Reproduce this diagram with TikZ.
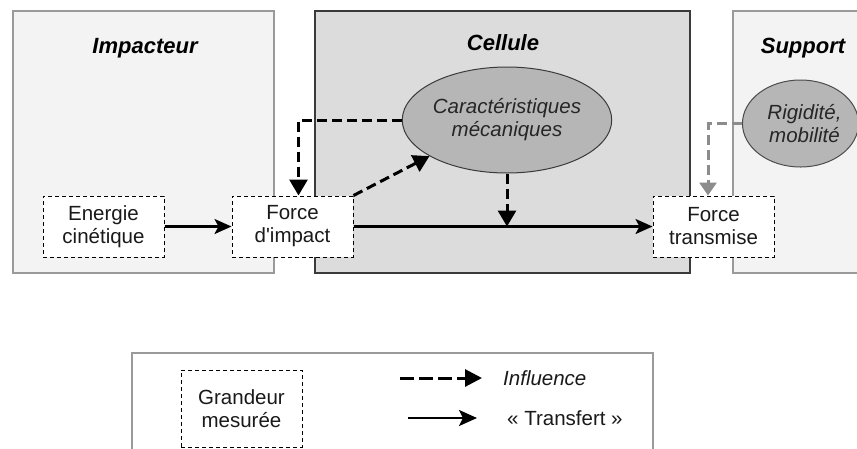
\documentclass[tikz,border=0pt]{standalone}
\usepackage{fontspec}
\setmainfont{Liberation Sans}
\usetikzlibrary{shapes.geometric,arrows.meta}
\definecolor{lightbg}{HTML}{F2F3F2}
\definecolor{cellbg}{HTML}{DCDCDC}
\definecolor{ellfill}{HTML}{B6B6B6}
\definecolor{zoneline}{HTML}{9A9A9A}
\definecolor{cellline}{HTML}{3A3A3A}
\definecolor{grayarrow}{HTML}{8C8C8C}
\definecolor{txt}{HTML}{1A1A1A}
\begin{document}
\begin{tikzpicture}[x=1pt,y=-1pt,
  lightzone/.style={fill=lightbg,draw=zoneline,line width=1.2pt},
  cellzone/.style={fill=cellbg,draw=cellline,line width=1.3pt},
  zonetitle/.style={font=\fontsize{22}{26}\selectfont\bfseries\itshape,anchor=base,inner sep=0pt},
  qty/.style={draw=black,fill=white,dash pattern=on 4pt off 3pt,line width=1pt,
    minimum width=121pt,minimum height=61pt,inner sep=0pt,align=center,text=txt,
    font=\fontsize{20.5}{23}\selectfont},
  charac/.style={ellipse,draw=cellline,fill=ellfill,line width=1pt,inner sep=0pt,
    align=center,font=\fontsize{20.5}{23}\selectfont\itshape,text=black!85},
  influence/.style={line width=3pt,dash pattern=on 10pt off 5pt,
    -{Triangle[length=16pt,width=18pt]}},
  transfer/.style={line width=2.3pt,-{Stealth[length=17pt,width=15pt,inset=4pt]}},
  legtext/.style={anchor=west,inner sep=0pt,text=txt,font=\fontsize{20.5}{23}\selectfont}
]
\useasboundingbox (0,0) rectangle (857,448);
\clip (0,0) rectangle (857,448);

% zones
\draw[lightzone] (13,11) rectangle (274,273);
\draw[cellzone] (315,11) rectangle (690,273);
\draw[lightzone] (733,11) rectangle (880,273);

\node[zonetitle] (timp) at (145,53) {Impacteur};
\node[zonetitle] (tcel) at (503,50) {Cellule};
\node[zonetitle] (tsup) at (803,53) {Support};

% ellipses
\node[charac,minimum width=181pt,minimum height=106pt] (cara) at (507,120)
  {Caractéristiques\\mécaniques};
\node[charac,draw=black!70,minimum width=111pt,minimum height=87pt] (rigi) at (800.5,123.5)
  {\hspace*{8pt}Rigidité,\\\hspace*{8pt}mobilité};

% quantities
\node[qty] (ener) at (103.5,226.5) {Energie\\cinétique};
\node[qty] (impact) at (292.5,226.5) {Force\\d\textquotesingle impact};
\node[qty] (trans) at (713.5,226.5) {Force\\transmise};

% transfers
\draw[transfer] (ener.east) -- (impact.west);
\draw[transfer] (impact.east) -- (trans.west);

% influences
\draw[influence] (cara.west) -| ([xshift=6pt]impact.north);
\draw[influence] (impact.north east) -- (cara.205);
\coordinate (onl) at (cara.south |- impact.east);
\draw[influence] (cara.south) -- (onl);
\draw[influence,draw=grayarrow,-{Triangle[length=13pt,width=17pt,fill=grayarrow]}]
  (rigi.west) -| ([xshift=-5.5pt]trans.north);

% legend
\draw[draw=zoneline,fill=white,line width=1.2pt] (132,353) rectangle (653,470);
\node[qty,minimum height=77pt] (grand) at (241.5,408.5) {Grandeur\\mesurée};
\coordinate (ia) at (400,378);
\coordinate (ib) at (482,378);
\draw[influence,dash pattern=on 14pt off 5pt,-{Triangle[length=17pt,width=17pt]}] (ia) -- (ib);
\node[legtext,font=\fontsize{20.5}{23}\selectfont\itshape] (linf) at (503,378) {Influence};
\coordinate (ta) at (408,418);
\coordinate (tb) at (477,418);
\draw[transfer,line width=2.6pt,-{Stealth[length=18pt,width=16pt,inset=4pt]}] (ta) -- (tb);
\node[legtext] (ltra) at (507,418) {« Transfert »};
\end{tikzpicture}
\end{document}
